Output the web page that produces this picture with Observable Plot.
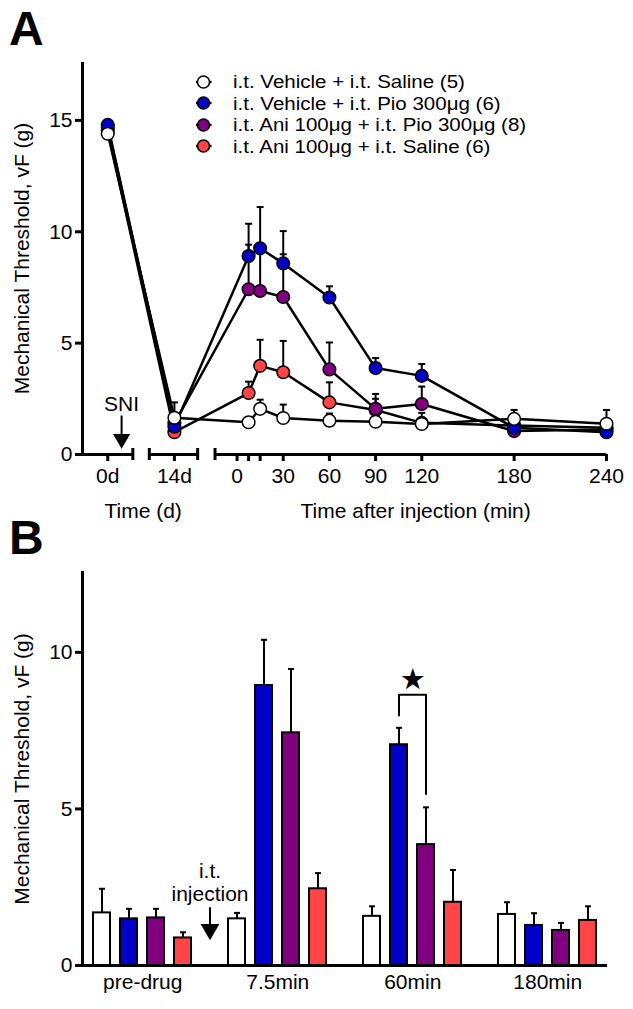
<!DOCTYPE html>
<html><head><meta charset="utf-8">
<script src="https://cdn.jsdelivr.net/npm/d3@7"></script>
<script src="https://cdn.jsdelivr.net/npm/@observablehq/plot@0.6"></script>
<style>
body{margin:0;background:#fff;font-family:"Liberation Sans",Arial,sans-serif;color:#000;}
#wrap{position:relative;width:633px;height:1009px;overflow:hidden;background:#fff;}
.panel{position:absolute;left:0;}
.tag{position:absolute;left:9px;font-weight:bold;font-size:48px;line-height:48px;}
#legend{position:absolute;left:195px;top:71px;font-size:20.5px;}
.row{height:21.5px;line-height:21.5px;display:flex;align-items:center;white-space:nowrap;}
.row svg{width:38px;height:20px;flex:none;}
.row span{display:inline-block;transform:scaleY(0.9);transform-origin:50% 50%;}
</style></head><body>
<div id="wrap">
  <div id="panelA" class="panel" style="top:0"></div>
  <div id="panelB" class="panel" style="top:530px"></div>
  <div class="tag" style="top:5px">A</div>
  <div class="tag" style="top:514px">B</div>
  <div id="legend"></div>
</div>
<script>
// ---------- shared ----------
const seriesNames = [
  "i.t. Vehicle + i.t. Saline (5)",
  "i.t. Vehicle + i.t. Pio 300μg (6)",
  "i.t. Ani 100μg + i.t. Pio 300μg (8)",
  "i.t. Ani 100μg + i.t. Saline (6)"
];
const seriesColors = ["#ffffff", "#0000c8", "#800080", "#ff4545"];
const drawOrder = [3, 2, 1, 0];
const yLabel = "Mechanical Threshold, vF (g)";

// ---------- panel A data ----------
const dayLabels = ["0d", "14d"];
const dayPos = [-84, -40.7];            // place of the day points on the broken axis
const minutesA = [7.5, 15, 30, 60, 90, 120, 180, 240];
const vehSalA    = [14.4, 1.65, 1.45, 2.05, 1.64, 1.52, 1.47, 1.37, 1.60, 1.38];
const vehSalSemA = [0.15, 0.69, 0.20, 0.41, 0.60, 0.32, 0.25, 0.20, 0.40, 0.62];
const vehPioA    = [14.8, 1.25, 8.91, 9.26, 8.58, 7.05, 3.88, 3.53, 1.20, 1.00];
const vehPioSemA = [0.15, 0.30, 1.45, 1.85, 1.45, 0.50, 0.45, 0.53, 0.35, 0.30];
const aniPioA    = [14.7, 1.40, 7.42, 7.34, 7.07, 3.82, 2.05, 2.27, 1.05, 1.12];
const aniPioSemA = [0.15, 0.30, 2.00, 1.80, 1.92, 1.21, 0.67, 0.78, 0.25, 0.25];
const aniSalA    = [14.55, 1.00, 2.76, 3.98, 3.69, 2.34, 2.00, 1.42, 1.30, 1.20];
const aniSalSemA = [0.10, 0.20, 0.51, 1.17, 1.41, 0.90, 0.50, 0.45, 0.40, 0.40];
const yTicksA = [0, 5, 10, 15];
const minTicks = [0, 7.5, 15, 30, 60, 90, 120, 180, 240];
const minTickLabels = ["0", "", "", "30", "60", "90", "120", "180", "240"];
const axisSegments = [[-100.4, -67.7], [-57, -25.6], [-14.3, 240]];
const capPos = [-67.7, -57, -25.6, -14.3];
const xDomainA = [-100.4, 240];

// ---------- panel B data ----------
const groupsB = ["pre-drug", "7.5min", "60min", "180min"];
const vehSalB    = [1.68, 1.49, 1.57, 1.63];
const vehSalSemB = [0.77, 0.19, 0.32, 0.39];
const vehPioB    = [1.49, 8.94, 7.05, 1.28];
const vehPioSemB = [0.32, 1.46, 0.54, 0.39];
const aniPioB    = [1.52, 7.43, 3.86, 1.12];
const aniPioSemB = [0.29, 2.04, 1.19, 0.24];
const aniSalB    = [0.88, 2.45, 2.02, 1.44];
const aniSalSemB = [0.18, 0.50, 1.03, 0.45];
const yTicksB = [0, 5, 10];
const bracketB = {group: "60min", left: 1, right: 2, top: 8.65, leftEnd: 7.98, rightEnd: 5.48, star: 9.12};

// ---------- helpers ----------
const FS = 21;
const meansA = [vehSalA, vehPioA, aniPioA, aniSalA];
const semsA = [vehSalSemA, vehPioSemA, aniPioSemA, aniSalSemA];
const meansB = [vehSalB, vehPioB, aniPioB, aniSalB];
const semsB = [vehSalSemB, vehPioSemB, aniPioSemB, aniSalSemB];
const capSym = {draw(ctx, size) { const w = Math.sqrt(size / Math.PI); ctx.moveTo(-w, 0); ctx.lineTo(w, 0); }};
const font = '"Liberation Sans", Arial, sans-serif';

const rowsA = [];
for (const s of drawOrder) {
  meansA[s].forEach((v, i) => {
    rowsA.push({s, x: i < 2 ? dayPos[i] : minutesA[i - 2], v, sem: semsA[s][i], c: seriesColors[s]});
  });
}
const tickLabelMap = new Map();
minTicks.forEach((t, i) => tickLabelMap.set(t, minTickLabels[i]));
dayPos.forEach((t, i) => tickLabelMap.set(t, dayLabels[i]));

const seriesMarksA = drawOrder.flatMap(s => {
  const d = rowsA.filter(r => r.s === s);
  return [
    Plot.ruleX(d, {x: "x", y1: "v", y2: r => r.v + r.sem, strokeWidth: 2}),
    Plot.dot(d, {x: "x", y: r => r.v + r.sem, symbol: capSym, r: 3.5, stroke: "black", strokeWidth: 2}),
    Plot.dot(d, {x: "x", y: "v", r: 6.3, fill: seriesColors[s], stroke: "black", strokeWidth: 1.5})
  ];
});

const plotA = Plot.plot({
  width: 633, height: 530,
  marginLeft: 82, marginRight: 27, marginTop: 62, marginBottom: 76,
  style: {fontFamily: font, fontSize: FS + "px", color: "black", background: "white", overflow: "visible"},
  x: {type: "linear", domain: xDomainA},
  y: {domain: [0, 17.6]},
  marks: [
    Plot.ruleX([xDomainA[0]], {strokeWidth: 3}),
    Plot.axisY({ticks: yTicksA, tickSize: 7, tickPadding: 3, strokeWidth: 3, label: null, fontSize: FS}),
    Plot.ruleY(axisSegments, {x1: d => d[0], x2: d => d[1], y: 0, strokeWidth: 3}),
    Plot.axisX({ticks: minTicks.concat(dayPos), tickFormat: d => tickLabelMap.get(d) ?? "", tickSize: 7, tickPadding: 7, strokeWidth: 3, label: null, fontSize: FS}),
    Plot.axisX({ticks: capPos, tickFormat: () => "", tickSize: 12, dy: -6, strokeWidth: 3, label: null}),
    Plot.text(["Time (d)"], {x: () => -61, frameAnchor: "bottom", dy: 63, fontSize: FS}),
    Plot.text(["Time after injection (min)"], {x: () => 116, frameAnchor: "bottom", dy: 63, fontSize: FS}),
    Plot.text([yLabel], {frameAnchor: "left", textAnchor: "middle", rotate: -90, dx: -60, fontSize: FS}),
    Plot.text(["SNI"], {x: () => -75, y: () => 2.27, fontSize: FS}),
    Plot.link([0], {x1: () => -75, x2: () => -75, y1: () => 1.75, y2: () => 0.85, strokeWidth: 2}),
    Plot.dot([0], {x: () => -75, y: () => 0.7, symbol: "triangle", rotate: 180, r: 6.4, fill: "black"}),
    Plot.line(rowsA, {x: "x", y: "v", z: "s", stroke: "black", strokeWidth: 2.5}),
    ...seriesMarksA
  ]
});
document.getElementById("panelA").appendChild(plotA);

// ---------- panel B ----------
const keysB = [];
groupsB.forEach((g, gi) => {
  if (gi > 0) keysB.push("gap" + gi);
  for (let s = 0; s < 4; s++) keysB.push(g + "|" + s);
});
const rowsB = [];
groupsB.forEach((g, gi) => {
  for (let s = 0; s < 4; s++) rowsB.push({k: g + "|" + s, v: meansB[s][gi], sem: semsB[s][gi], c: seriesColors[s]});
});
const padIn = 0.364, padOut = 0.218;
const stepB = (633 - 82 - 26) / (keysB.length - padIn + 2 * padOut);
const leftKey = bracketB.group + "|" + bracketB.left;
const rightKey = bracketB.group + "|" + bracketB.right;
const bracketPts = [
  {k: leftKey, v: bracketB.leftEnd},
  {k: leftKey, v: bracketB.top},
  {k: rightKey, v: bracketB.top},
  {k: rightKey, v: bracketB.rightEnd}
];

const plotB = Plot.plot({
  width: 633, height: 479,
  marginLeft: 82, marginRight: 26, marginTop: 42, marginBottom: 44,
  style: {fontFamily: font, fontSize: FS + "px", color: "black", background: "white", overflow: "visible"},
  x: {domain: keysB, paddingInner: padIn, paddingOuter: padOut, axis: null},
  y: {domain: [0, 12.55]},
  marks: [
    Plot.barY(rowsB, {x: "k", y: "v", fill: "c", stroke: "black", strokeWidth: 2}),
    Plot.ruleX(rowsB, {x: "k", y1: "v", y2: d => d.v + d.sem, strokeWidth: 2}),
    Plot.dot(rowsB, {x: "k", y: d => d.v + d.sem, symbol: capSym, r: 3, stroke: "black", strokeWidth: 2}),
    Plot.ruleY([0], {strokeWidth: 3}),
    Plot.frame({anchor: "left", strokeWidth: 3}),
    Plot.axisY({ticks: yTicksB, tickSize: 7, tickPadding: 3, strokeWidth: 3, label: null, fontSize: FS}),
    Plot.text(groupsB, {x: g => g + "|1", frameAnchor: "bottom", dy: 23, dx: stepB / 2, fontSize: FS}),
    Plot.text([yLabel], {frameAnchor: "left", textAnchor: "middle", rotate: -90, dx: -60, fontSize: FS}),
    Plot.text(["i.t.\ninjection"], {x: () => "gap1", y: () => 2.66, lineHeight: 1.12, fontSize: FS}),
    Plot.link([0], {x1: () => "gap1", x2: () => "gap1", y1: () => 1.86, y2: () => 1.2, strokeWidth: 2}),
    Plot.dot([0], {x: () => "gap1", y: () => 1.15, symbol: "triangle", rotate: 180, r: 7, fill: "black"}),
    Plot.line(bracketPts, {x: "k", y: "v", stroke: "black", strokeWidth: 2}),
    Plot.text(["★"], {x: () => leftKey, y: () => bracketB.star, dx: stepB / 2, fontSize: 29, fontFamily: "DejaVu Sans"})
  ]
});
document.getElementById("panelB").appendChild(plotB);

// ---------- legend ----------
const legend = document.getElementById("legend");
seriesNames.forEach((name, i) => {
  const row = document.createElement("div");
  row.className = "row";
  row.innerHTML = `<svg viewBox="0 0 38 20"><line x1="1" x2="16.5" y1="10" y2="10" stroke="black" stroke-width="2.5"/><circle cx="8.5" cy="10" r="6" fill="${seriesColors[i]}" stroke="black" stroke-width="1.5"/></svg><span>${name}</span>`;
  legend.appendChild(row);
});
</script>
</body></html>
